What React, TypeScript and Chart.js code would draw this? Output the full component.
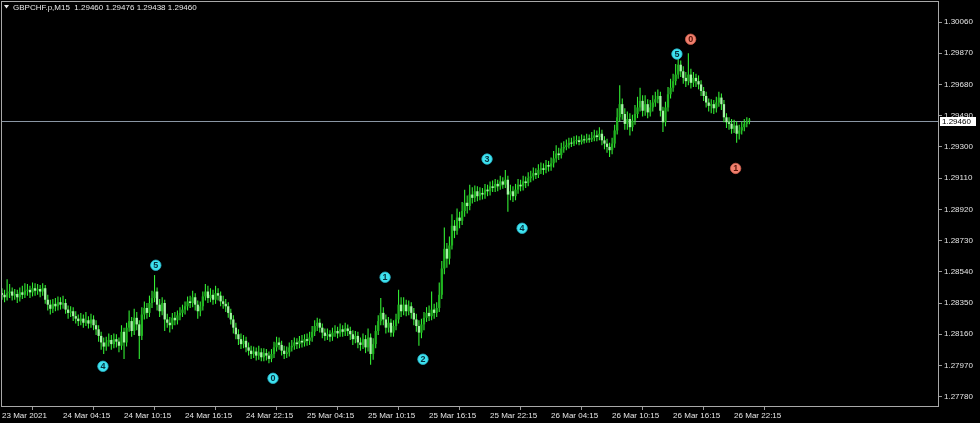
import React, { useEffect, useRef } from "react";
import { Chart, registerables } from "chart.js";

Chart.register(...registerables);

const symbolTitle = "GBPCHF.p,M15  1.29460 1.29476 1.29438 1.29460";
const lastPrice = 1.2946;

const timeTickIndex = [0, 24, 48, 72, 96, 120, 144, 168, 192, 216, 240, 264, 288];
const timeTickLabels = [
  "23 Mar 2021", "24 Mar 04:15", "24 Mar 10:15", "24 Mar 16:15", "24 Mar 22:15",
  "25 Mar 04:15", "25 Mar 10:15", "25 Mar 16:15", "25 Mar 22:15",
  "26 Mar 04:15", "26 Mar 10:15", "26 Mar 16:15", "26 Mar 22:15",
];
const priceTicks = [
  1.2778, 1.2797, 1.2816, 1.2835, 1.2854, 1.2873, 1.2892,
  1.2911, 1.293, 1.2949, 1.2968, 1.2987, 1.3006,
];

const opens = [
  1.28410, 1.28400, 1.28385, 1.28410, 1.28420, 1.28395, 1.28405, 1.28385, 1.28415, 1.28400,
  1.28425, 1.28430, 1.28415, 1.28440, 1.28425, 1.28435, 1.28420, 1.28440, 1.28370, 1.28340,
  1.28315, 1.28345, 1.28330, 1.28355, 1.28340, 1.28350, 1.28310, 1.28290, 1.28300, 1.28270,
  1.28255, 1.28240, 1.28255, 1.28230, 1.28245, 1.28225, 1.28250, 1.28215, 1.28190, 1.28150,
  1.28110, 1.28085, 1.28110, 1.28125, 1.28100, 1.28130, 1.28115, 1.28090, 1.28175, 1.28110,
  1.28200, 1.28240, 1.28180, 1.28260, 1.28220, 1.28150, 1.28280, 1.28320, 1.28290, 1.28350,
  1.28380, 1.28420, 1.28340, 1.28300, 1.28350, 1.28250, 1.28230, 1.28215, 1.28260, 1.28245,
  1.28275, 1.28290, 1.28310, 1.28330, 1.28360, 1.28350, 1.28385, 1.28340, 1.28300, 1.28330,
  1.28390, 1.28420, 1.28380, 1.28400, 1.28370, 1.28410, 1.28395, 1.28360, 1.28345, 1.28330,
  1.28290, 1.28250, 1.28200, 1.28160, 1.28130, 1.28100, 1.28120, 1.28080, 1.28060, 1.28040,
  1.28055, 1.28030, 1.28050, 1.28020, 1.28045, 1.28030, 1.28010, 1.28040, 1.28080, 1.28110,
  1.28095, 1.28060, 1.28040, 1.28050, 1.28080, 1.28090, 1.28110, 1.28100, 1.28120, 1.28110,
  1.28130, 1.28120, 1.28140, 1.28175, 1.28210, 1.28230, 1.28200, 1.28170, 1.28150, 1.28160,
  1.28145, 1.28170, 1.28180, 1.28165, 1.28190, 1.28175, 1.28195, 1.28180, 1.28160, 1.28130,
  1.28150, 1.28110, 1.28095, 1.28130, 1.28080, 1.28140, 1.28040, 1.28100, 1.28180, 1.28240,
  1.28290, 1.28250, 1.28200, 1.28230, 1.28170, 1.28210, 1.28250, 1.28340, 1.28300, 1.28340,
  1.28300, 1.28330, 1.28290, 1.28250, 1.28210, 1.28170, 1.28220, 1.28260, 1.28290, 1.28270,
  1.28310, 1.28290, 1.28320, 1.28400, 1.28560, 1.28680, 1.28620, 1.28700, 1.28820, 1.28790,
  1.28870, 1.28850, 1.28910, 1.28960, 1.28940, 1.29010, 1.28990, 1.29030, 1.29000, 1.29020,
  1.29010, 1.29040, 1.29030, 1.29060, 1.29050, 1.29075, 1.29060, 1.29090, 1.29070, 1.29100,
  1.29010, 1.29030, 1.29000, 1.29040, 1.29070, 1.29060, 1.29090, 1.29080, 1.29110, 1.29120,
  1.29140, 1.29130, 1.29160, 1.29170, 1.29160, 1.29190, 1.29180, 1.29200, 1.29230, 1.29260,
  1.29250, 1.29290, 1.29300, 1.29310, 1.29325, 1.29320, 1.29335, 1.29340, 1.29330, 1.29345,
  1.29340, 1.29350, 1.29345, 1.29355, 1.29370, 1.29360, 1.29380, 1.29340, 1.29320, 1.29300,
  1.29280, 1.29320, 1.29400, 1.29480, 1.29560, 1.29500, 1.29440, 1.29470, 1.29420, 1.29460,
  1.29500, 1.29540, 1.29580, 1.29520, 1.29560, 1.29510, 1.29540, 1.29570, 1.29590, 1.29610,
  1.29520, 1.29450, 1.29540, 1.29620, 1.29660, 1.29700, 1.29740, 1.29800, 1.29760, 1.29720,
  1.29700, 1.29740, 1.29690, 1.29720, 1.29700, 1.29680, 1.29640, 1.29610, 1.29570, 1.29550,
  1.29560, 1.29535, 1.29570, 1.29600, 1.29560, 1.29480, 1.29450, 1.29440, 1.29410, 1.29430,
  1.29380, 1.29400, 1.29420, 1.29440, 1.29460,
];

const highs = [
  1.28440, 1.28430, 1.28495, 1.28465, 1.28445, 1.28435, 1.28430, 1.28445, 1.28455, 1.28470,
  1.28465, 1.28455, 1.28475, 1.28470, 1.28465, 1.28460, 1.28470, 1.28460, 1.28400, 1.28370,
  1.28375, 1.28380, 1.28390, 1.28385, 1.28395, 1.28375, 1.28335, 1.28330, 1.28325, 1.28300,
  1.28280, 1.28290, 1.28280, 1.28295, 1.28270, 1.28285, 1.28275, 1.28245, 1.28215, 1.28175,
  1.28140, 1.28145, 1.28165, 1.28155, 1.28165, 1.28160, 1.28140, 1.28215, 1.28200, 1.28230,
  1.28305, 1.28265, 1.28315, 1.28295, 1.28245, 1.28325, 1.28360, 1.28350, 1.28395, 1.28425,
  1.28520, 1.28445, 1.28375, 1.28385, 1.28370, 1.28285, 1.28265, 1.28290, 1.28295, 1.28305,
  1.28325, 1.28340, 1.28360, 1.28390, 1.28395, 1.28425, 1.28410, 1.28365, 1.28360, 1.28420,
  1.28465, 1.28455, 1.28440, 1.28430, 1.28455, 1.28440, 1.28420, 1.28395, 1.28375, 1.28355,
  1.28315, 1.28275, 1.28230, 1.28190, 1.28165, 1.28155, 1.28145, 1.28110, 1.28090, 1.28085,
  1.28080, 1.28090, 1.28075, 1.28075, 1.28070, 1.28055, 1.28070, 1.28115, 1.28145, 1.28140,
  1.28120, 1.28090, 1.28085, 1.28110, 1.28125, 1.28140, 1.28135, 1.28150, 1.28155, 1.28160,
  1.28165, 1.28175, 1.28210, 1.28245, 1.28260, 1.28255, 1.28225, 1.28195, 1.28195, 1.28185,
  1.28200, 1.28215, 1.28205, 1.28225, 1.28215, 1.28230, 1.28220, 1.28205, 1.28185, 1.28180,
  1.28175, 1.28140, 1.28165, 1.28155, 1.28195, 1.28165, 1.28135, 1.28215, 1.28275, 1.28380,
  1.28325, 1.28280, 1.28265, 1.28255, 1.28245, 1.28285, 1.28430, 1.28385, 1.28385, 1.28370,
  1.28365, 1.28355, 1.28320, 1.28285, 1.28245, 1.28255, 1.28295, 1.28325, 1.28335, 1.28420,
  1.28345, 1.28355, 1.28475, 1.28605, 1.28810, 1.28715, 1.28755, 1.28890, 1.28855, 1.28925,
  1.28905, 1.28965, 1.29040, 1.29005, 1.29070, 1.29055, 1.29065, 1.29060, 1.29055, 1.29050,
  1.29075, 1.29070, 1.29090, 1.29095, 1.29105, 1.29100, 1.29125, 1.29115, 1.29160, 1.29125,
  1.29070, 1.29060, 1.29075, 1.29105, 1.29100, 1.29125, 1.29120, 1.29145, 1.29155, 1.29175,
  1.29170, 1.29195, 1.29205, 1.29200, 1.29220, 1.29215, 1.29235, 1.29275, 1.29310, 1.29295,
  1.29325, 1.29335, 1.29345, 1.29355, 1.29355, 1.29365, 1.29370, 1.29365, 1.29375, 1.29370,
  1.29380, 1.29375, 1.29390, 1.29405, 1.29400, 1.29420, 1.29405, 1.29365, 1.29350, 1.29325,
  1.29355, 1.29435, 1.29535, 1.29675, 1.29595, 1.29535, 1.29515, 1.29505, 1.29495, 1.29555,
  1.29605, 1.29660, 1.29615, 1.29615, 1.29590, 1.29585, 1.29615, 1.29635, 1.29650, 1.29635,
  1.29545, 1.29575, 1.29665, 1.29715, 1.29745, 1.29805, 1.29845, 1.29825, 1.29790, 1.29755,
  1.29870, 1.29775, 1.29755, 1.29745, 1.29735, 1.29705, 1.29665, 1.29635, 1.29595, 1.29590,
  1.29585, 1.29605, 1.29635, 1.29625, 1.29585, 1.29505, 1.29480, 1.29470, 1.29465, 1.29455,
  1.29435, 1.29455, 1.29470, 1.29480, 1.29476,
];

const lows = [
  1.28370, 1.28355, 1.28365, 1.28380, 1.28365, 1.28370, 1.28350, 1.28360, 1.28375, 1.28380,
  1.28395, 1.28380, 1.28390, 1.28395, 1.28400, 1.28385, 1.28395, 1.28345, 1.28305, 1.28280,
  1.28290, 1.28300, 1.28305, 1.28310, 1.28315, 1.28285, 1.28255, 1.28265, 1.28240, 1.28225,
  1.28210, 1.28215, 1.28200, 1.28210, 1.28195, 1.28200, 1.28185, 1.28155, 1.28115, 1.28065,
  1.28040, 1.28060, 1.28085, 1.28065, 1.28075, 1.28080, 1.28050, 1.28065, 1.28010, 1.28085,
  1.28175, 1.28145, 1.28155, 1.28185, 1.28010, 1.28125, 1.28250, 1.28255, 1.28265, 1.28320,
  1.28355, 1.28305, 1.28265, 1.28275, 1.28180, 1.28200, 1.28170, 1.28190, 1.28215, 1.28220,
  1.28245, 1.28265, 1.28280, 1.28305, 1.28320, 1.28325, 1.28305, 1.28255, 1.28270, 1.28305,
  1.28365, 1.28350, 1.28355, 1.28340, 1.28345, 1.28365, 1.28330, 1.28315, 1.28295, 1.28260,
  1.28220, 1.28165, 1.28130, 1.28095, 1.28070, 1.28075, 1.28050, 1.28030, 1.28010, 1.28015,
  1.28000, 1.28005, 1.27995, 1.27995, 1.28000, 1.27983, 1.27990, 1.28015, 1.28055, 1.28065,
  1.28030, 1.28010, 1.28015, 1.28025, 1.28055, 1.28065, 1.28070, 1.28075, 1.28080, 1.28085,
  1.28090, 1.28095, 1.28115, 1.28150, 1.28180, 1.28170, 1.28135, 1.28120, 1.28125, 1.28115,
  1.28120, 1.28145, 1.28135, 1.28145, 1.28145, 1.28150, 1.28150, 1.28125, 1.28095, 1.28105,
  1.28075, 1.28060, 1.28070, 1.28045, 1.28055, 1.27975, 1.28005, 1.28075, 1.28155, 1.28215,
  1.28215, 1.28165, 1.28170, 1.28145, 1.28145, 1.28185, 1.28225, 1.28265, 1.28275, 1.28270,
  1.28275, 1.28255, 1.28215, 1.28175, 1.28090, 1.28135, 1.28185, 1.28235, 1.28240, 1.28245,
  1.28255, 1.28265, 1.28295, 1.28375, 1.28525, 1.28565, 1.28585, 1.28675, 1.28745, 1.28765,
  1.28805, 1.28825, 1.28875, 1.28895, 1.28915, 1.28955, 1.28965, 1.28970, 1.28975, 1.28980,
  1.28985, 1.29000, 1.29005, 1.29025, 1.29025, 1.29030, 1.29040, 1.29045, 1.29050, 1.28905,
  1.28975, 1.28965, 1.28975, 1.29015, 1.29030, 1.29035, 1.29050, 1.29060, 1.29085, 1.29095,
  1.29105, 1.29110, 1.29135, 1.29130, 1.29140, 1.29150, 1.29155, 1.29175, 1.29205, 1.29220,
  1.29230, 1.29265, 1.29280, 1.29290, 1.29300, 1.29305, 1.29315, 1.29310, 1.29315, 1.29320,
  1.29325, 1.29325, 1.29330, 1.29335, 1.29335, 1.29340, 1.29310, 1.29285, 1.29265, 1.29238,
  1.29255, 1.29295, 1.29375, 1.29455, 1.29465, 1.29405, 1.29405, 1.29370, 1.29395, 1.29435,
  1.29475, 1.29515, 1.29485, 1.29490, 1.29475, 1.29485, 1.29515, 1.29545, 1.29565, 1.29485,
  1.29390, 1.29425, 1.29515, 1.29595, 1.29635, 1.29675, 1.29715, 1.29725, 1.29685, 1.29665,
  1.29675, 1.29655, 1.29665, 1.29665, 1.29650, 1.29610, 1.29580, 1.29540, 1.29515, 1.29505,
  1.29500, 1.29510, 1.29545, 1.29525, 1.29450, 1.29415, 1.29405, 1.29380, 1.29385, 1.29325,
  1.29345, 1.29375, 1.29395, 1.29420, 1.29438,
];

const closes = [
  1.28400, 1.28385, 1.28410, 1.28420, 1.28395, 1.28405, 1.28385, 1.28415, 1.28400, 1.28425,
  1.28430, 1.28415, 1.28440, 1.28425, 1.28435, 1.28420, 1.28440, 1.28370, 1.28340, 1.28315,
  1.28345, 1.28330, 1.28355, 1.28340, 1.28350, 1.28310, 1.28290, 1.28300, 1.28270, 1.28255,
  1.28240, 1.28255, 1.28230, 1.28245, 1.28225, 1.28250, 1.28215, 1.28190, 1.28150, 1.28110,
  1.28085, 1.28110, 1.28125, 1.28100, 1.28130, 1.28115, 1.28090, 1.28175, 1.28110, 1.28200,
  1.28240, 1.28180, 1.28260, 1.28220, 1.28150, 1.28280, 1.28320, 1.28290, 1.28350, 1.28380,
  1.28420, 1.28340, 1.28300, 1.28350, 1.28250, 1.28230, 1.28215, 1.28260, 1.28245, 1.28275,
  1.28290, 1.28310, 1.28330, 1.28360, 1.28350, 1.28385, 1.28340, 1.28300, 1.28330, 1.28390,
  1.28420, 1.28380, 1.28400, 1.28370, 1.28410, 1.28395, 1.28360, 1.28345, 1.28330, 1.28290,
  1.28250, 1.28200, 1.28160, 1.28130, 1.28100, 1.28120, 1.28080, 1.28060, 1.28040, 1.28055,
  1.28030, 1.28050, 1.28020, 1.28045, 1.28030, 1.28010, 1.28040, 1.28080, 1.28110, 1.28095,
  1.28060, 1.28040, 1.28050, 1.28080, 1.28090, 1.28110, 1.28100, 1.28120, 1.28110, 1.28130,
  1.28120, 1.28140, 1.28175, 1.28210, 1.28230, 1.28200, 1.28170, 1.28150, 1.28160, 1.28145,
  1.28170, 1.28180, 1.28165, 1.28190, 1.28175, 1.28195, 1.28180, 1.28160, 1.28130, 1.28150,
  1.28110, 1.28095, 1.28130, 1.28080, 1.28140, 1.28040, 1.28100, 1.28180, 1.28240, 1.28290,
  1.28250, 1.28200, 1.28230, 1.28170, 1.28210, 1.28250, 1.28340, 1.28300, 1.28340, 1.28300,
  1.28330, 1.28290, 1.28250, 1.28210, 1.28170, 1.28220, 1.28260, 1.28290, 1.28270, 1.28310,
  1.28290, 1.28320, 1.28400, 1.28560, 1.28680, 1.28620, 1.28700, 1.28820, 1.28790, 1.28870,
  1.28850, 1.28910, 1.28960, 1.28940, 1.29010, 1.28990, 1.29030, 1.29000, 1.29020, 1.29010,
  1.29040, 1.29030, 1.29060, 1.29050, 1.29075, 1.29060, 1.29090, 1.29070, 1.29100, 1.29010,
  1.29030, 1.29000, 1.29040, 1.29070, 1.29060, 1.29090, 1.29080, 1.29110, 1.29120, 1.29140,
  1.29130, 1.29160, 1.29170, 1.29160, 1.29190, 1.29180, 1.29200, 1.29230, 1.29260, 1.29250,
  1.29290, 1.29300, 1.29310, 1.29325, 1.29320, 1.29335, 1.29340, 1.29330, 1.29345, 1.29340,
  1.29350, 1.29345, 1.29355, 1.29370, 1.29360, 1.29380, 1.29340, 1.29320, 1.29300, 1.29280,
  1.29320, 1.29400, 1.29480, 1.29560, 1.29500, 1.29440, 1.29470, 1.29420, 1.29460, 1.29500,
  1.29540, 1.29580, 1.29520, 1.29560, 1.29510, 1.29540, 1.29570, 1.29590, 1.29610, 1.29520,
  1.29450, 1.29540, 1.29620, 1.29660, 1.29700, 1.29740, 1.29800, 1.29760, 1.29720, 1.29700,
  1.29740, 1.29690, 1.29720, 1.29700, 1.29680, 1.29640, 1.29610, 1.29570, 1.29550, 1.29560,
  1.29535, 1.29570, 1.29600, 1.29560, 1.29480, 1.29450, 1.29440, 1.29410, 1.29430, 1.29380,
  1.29400, 1.29420, 1.29440, 1.29455, 1.29460,
];

// Elliott wave labels (bar position, price, text)
const waveCyanX = [39.7, 60.5, 106.6, 150.7, 165.6, 190.8, 204.6, 265.5];
const waveCyanY = [1.27965, 1.2858, 1.27892, 1.28507, 1.28008, 1.29226, 1.28805, 1.29865];
const waveCyanText = ["4", "5", "0", "1", "2", "3", "4", "5"];
const waveRedX = [270.9, 288.6];
const waveRedY = [1.29955, 1.29169];
const waveRedText = ["0", "1"];

const FONT = "Liberation Sans";

const overlayPlugin = {
  id: "mtOverlay",
  beforeDraw(chart: any) {
    const { ctx, width, height } = chart;
    ctx.save();
    ctx.fillStyle = "#000000";
    ctx.fillRect(0, 0, width, height);
    ctx.restore();
  },
  beforeDatasetsDraw(chart: any) {
    const { ctx, chartArea } = chart;
    const y = Math.round(chart.scales.y.getPixelForValue(lastPrice)) + 0.5;
    ctx.save();
    ctx.strokeStyle = "#8a96a4";
    ctx.lineWidth = 1;
    ctx.beginPath();
    ctx.moveTo(chartArea.left, y);
    ctx.lineTo(chartArea.right, y);
    ctx.stroke();
    ctx.restore();
  },
  afterDatasetsDraw(chart: any) {
    const { ctx } = chart;
    ctx.save();
    ctx.font = `bold 9px ${FONT}`;
    ctx.textAlign = "center";
    ctx.textBaseline = "middle";
    const sets = [
      { idx: 0, text: waveCyanText, color: "#06303f" },
      { idx: 1, text: waveRedText, color: "#5a1208" },
    ];
    sets.forEach((s) => {
      const meta = chart.getDatasetMeta(s.idx);
      meta.data.forEach((el: any, j: number) => {
        ctx.fillStyle = s.color;
        ctx.fillText(s.text[j], el.x, el.y + 0.5);
      });
    });
    ctx.restore();
  },
  afterDraw(chart: any) {
    const { ctx, chartArea } = chart;
    ctx.save();
    // frame
    ctx.strokeStyle = "#a8a8a8";
    ctx.lineWidth = 1;
    ctx.strokeRect(chartArea.left + 0.5, chartArea.top - 0.5, chartArea.right - chartArea.left - 1, chartArea.bottom - chartArea.top);
    // title
    ctx.fillStyle = "#e8e8e8";
    ctx.beginPath();
    ctx.moveTo(4, 5);
    ctx.lineTo(9, 5);
    ctx.lineTo(6.5, 8.5);
    ctx.closePath();
    ctx.fill();
    ctx.font = `8px ${FONT}`;
    ctx.textAlign = "left";
    ctx.textBaseline = "middle";
    ctx.fillText(symbolTitle, 13, 7.5);
    // price label box
    const y = Math.round(chart.scales.y.getPixelForValue(lastPrice));
    ctx.fillStyle = "#ffffff";
    ctx.fillRect(chartArea.right + 1, y - 4, 36, 9);
    ctx.fillStyle = "#000000";
    ctx.fillText(lastPrice.toFixed(5), chartArea.right + 3, y + 0.5);
    ctx.restore();
  },
};

export default function App() {
  const ref = useRef<HTMLCanvasElement>(null);

  useEffect(() => {
    document.body.style.margin = "0";
    document.body.style.background = "#000";
    const canvas = ref.current;
    if (!canvas) return;

    const bullBody = "#1fb31f";
    const bearBody = "#a6f5a6";
    const wickColor = "#33ee33";

    const bodies = closes.map((c, i) => ({ x: i, y: [opens[i], c] }));
    const bodyColors = closes.map((c, i) => (c >= opens[i] ? bullBody : bearBody));
    const wicks = highs.map((h, i) => ({ x: i, y: [lows[i], h] }));

    const chart = new Chart(canvas, {
      type: "bar",
      data: {
        datasets: [
          {
            type: "scatter",
            label: "wave cyan",
            data: waveCyanX.map((x, i) => ({ x, y: waveCyanY[i] })),
            pointRadius: 5.2,
            pointBackgroundColor: "#3fe3f0",
            pointBorderColor: "#2ab8cc",
            pointBorderWidth: 0.8,
            clip: false,
            order: 0,
          } as any,
          {
            type: "scatter",
            label: "wave red",
            data: waveRedX.map((x, i) => ({ x, y: waveRedY[i] })),
            pointRadius: 5.2,
            pointBackgroundColor: "#f0806e",
            pointBorderColor: "#d0604e",
            pointBorderWidth: 0.8,
            clip: false,
            order: 0,
          } as any,
          {
            type: "bar",
            label: "body",
            data: bodies,
            backgroundColor: bodyColors,
            barThickness: 2.3,
            grouped: false,
            minBarLength: 1,
            inflateAmount: 0,
            order: 1,
          } as any,
          {
            type: "bar",
            label: "wick",
            data: wicks,
            backgroundColor: wickColor,
            barThickness: 1.1,
            grouped: false,
            inflateAmount: 0,
            order: 2,
          } as any,
        ],
      },
      options: {
        responsive: false,
        animation: false,
        devicePixelRatio: 1,
        events: [],
        layout: { autoPadding: false, padding: { left: 1, top: 2, right: 0, bottom: 0 } },
        plugins: {
          legend: { display: false },
          tooltip: { enabled: false },
          title: { display: false },
        },
        scales: {
          x: {
            type: "linear",
            position: "bottom",
            min: -0.4,
            max: 368.6,
            offset: false,
            afterBuildTicks: (s: any) => {
              s.ticks = timeTickIndex.map((v) => ({ value: v }));
            },
            afterFit: (s: any) => {
              s.height = 16;
              s.paddingLeft = 0;
              s.paddingRight = 0;
            },
            grid: {
              display: true,
              drawOnChartArea: false,
              drawTicks: true,
              tickLength: 3,
              tickColor: "#9a9a9a",
              color: "#9a9a9a",
            },
            border: { display: false },
            ticks: {
              autoSkip: false,
              maxRotation: 0,
              minRotation: 0,
              align: "start",
              padding: 1,
              color: "#e4e4e4",
              font: { family: FONT, size: 8 },
              callback: (_v: any, i: number) => timeTickLabels[i] ?? "",
            },
          },
          y: {
            type: "linear",
            position: "right",
            min: 1.277173,
            max: 1.301817,
            afterBuildTicks: (s: any) => {
              s.ticks = priceTicks.map((v) => ({ value: v }));
            },
            afterFit: (s: any) => {
              s.width = 41;
              s.paddingTop = 0;
              s.paddingBottom = 0;
            },
            grid: {
              display: true,
              drawOnChartArea: false,
              drawTicks: true,
              tickLength: 3,
              tickColor: "#9a9a9a",
              color: "#9a9a9a",
            },
            border: { display: false },
            ticks: {
              autoSkip: false,
              padding: 2,
              color: "#e4e4e4",
              font: { family: FONT, size: 8 },
              callback: (v: any) => Number(v).toFixed(5),
            },
          },
        },
      } as any,
      plugins: [overlayPlugin],
    });

    return () => chart.destroy();
  }, []);

  return (
    <div style={{ width: 980, height: 423, background: "#000" }}>
      <canvas ref={ref} width={980} height={423} style={{ display: "block" }} />
    </div>
  );
}
